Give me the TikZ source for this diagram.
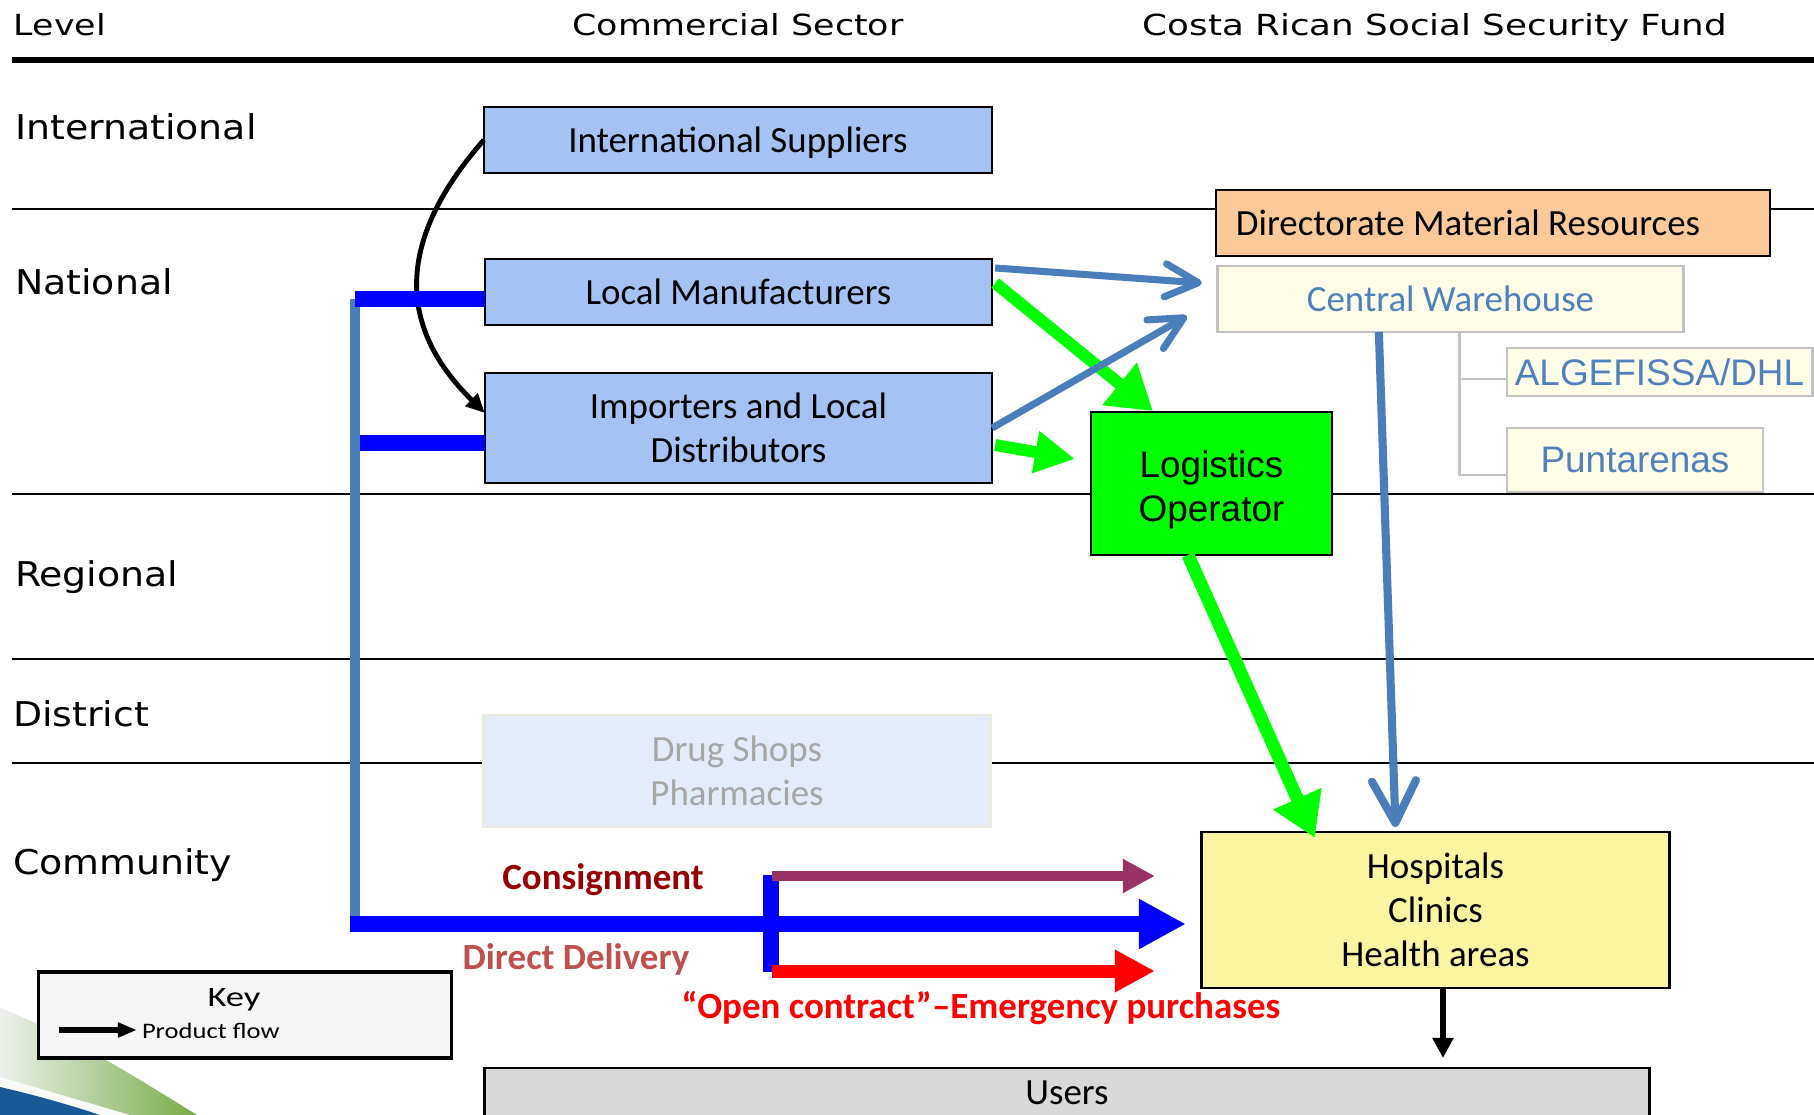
\documentclass[tikz,border=0pt]{standalone}
\usepackage{fontspec}
\usepackage{graphicx}
\setmainfont{Carlito}
\newfontfamily\arialf{Liberation Sans}
\newfontfamily\dejaf{DejaVu Sans}
\usetikzlibrary{arrows.meta,calc}
\definecolor{boxblue}{RGB}{164,194,244}
\definecolor{orangef}{RGB}{252,202,152}
\definecolor{cwfill}{RGB}{255,253,232}
\definecolor{cwborder}{RGB}{195,195,195}
\definecolor{steel}{RGB}{74,126,187}
\definecolor{cwtext}{RGB}{79,129,189}
\definecolor{lgreen}{RGB}{0,255,0}
\definecolor{pblue}{RGB}{0,0,255}
\definecolor{hospy}{RGB}{250,245,160}
\definecolor{usersg}{RGB}{217,217,217}
\definecolor{consig}{RGB}{153,51,102}
\definecolor{constext}{RGB}{150,0,0}
\definecolor{ddtext}{RGB}{192,80,77}
\definecolor{openred}{RGB}{255,0,0}
\definecolor{druggray}{RGB}{166,166,166}
\definecolor{drugfill}{RGB}{228,236,250}
\definecolor{drugborder}{RGB}{236,233,222}
\definecolor{keyfill}{RGB}{246,246,246}
\definecolor{swblue}{RGB}{25,90,150}
\definecolor{swgreen}{RGB}{120,170,70}
\definecolor{swlight}{RGB}{236,241,236}
\newcommand\mybody{\fontsize{10.5}{12.5}\selectfont}
\newcommand\myarial{\arialf\fontsize{10.5}{12.5}\selectfont}
\begin{document}
\begin{tikzpicture}[x=0.01cm,y=-0.01cm,
  every node/.style={inner sep=0pt, outer sep=0pt},
  hdr/.style={anchor=base, font=\dejaf\fontsize{8.25}{10}\selectfont},
  lvl/.style={anchor=base west, font=\dejaf\fontsize{9.7}{11}\selectfont},
  levline/.style={black, line width=0.85pt},
  bluebox/.style={draw=black, line width=0.7pt, fill=boxblue, font=\mybody, align=center},
  cwbox/.style={draw=cwborder, line width=0.8pt, fill=cwfill, text=cwtext, align=center},
  steelarrow/.style={steel, line width=2pt, -{Straight Barb[length=0.33cm,width=0.33cm,round]}},
  greenarrow/.style={lgreen, line width=3.4pt},
  lbl/.style={font=\bfseries\mybody, text depth=0pt},
  cwline/.style={cwborder, line width=0.85pt}
]
\useasboundingbox (0,0) rectangle (1814,1115);
\clip (0,0) rectangle (1814,1115);
\fill[white] (0,0) rectangle (1814,1115);

% decorative swoosh
\shade[left color=swlight, right color=swgreen] (0,1008) .. controls (70,1035) and (140,1080) .. (197,1115) -- (0,1115) -- cycle;
\fill[white!70!swlight] (0,1077) -- (130,1115) -- (0,1115) -- cycle;
\fill[swblue] (0,1087) .. controls (35,1095) and (70,1105) .. (100,1115) -- (0,1115) -- cycle;

% headers
\node[hdr, anchor=base west] (hlevel) at (14,35) {\scalebox{1.2}[1]{Level}};
\node[hdr] (hcomm) at (738,35) {\scalebox{1.2}[1]{Commercial Sector}};
\node[hdr] (hccss) at (1435,35) {\scalebox{1.23}[1]{Costa Rican Social Security Fund}};
\draw[black, line width=1.7pt] (12,60) -- (1814,60);

% level separators
\draw[levline] (12,209) -- (1814,209);
\draw[levline] (12,494) -- (1814,494);
\draw[levline] (12,659) -- (1814,659);
\draw[levline] (12,763) -- (1814,763);

% level labels
\node[lvl] (lint) at (15,139) {\scalebox{1.11}[1]{International}};
\node[lvl] (lnat) at (15,294) {\scalebox{1.11}[1]{National}};
\node[lvl] (lreg) at (15,586) {\scalebox{1.11}[1]{Regional}};
\node[lvl] (ldis) at (13,726) {\scalebox{1.11}[1]{District}};
\node[lvl] (lcom) at (13,874) {\scalebox{1.11}[1]{Community}};

% commercial sector boxes
\node[bluebox, minimum width=5.08cm, minimum height=0.66cm, text depth=0pt] (intsup) at (738,140) {International Suppliers};
\node[bluebox, minimum width=5.07cm, minimum height=0.66cm] (locman) at (738.5,292) {Local Manufacturers};
\node[bluebox, minimum width=5.07cm, minimum height=1.10cm] (importers) at (738.5,428) {Importers and Local\\Distributors};
\node[draw=drugborder, line width=0.8pt, fill=drugfill, text=druggray, font=\mybody, align=center,
      minimum width=5.06cm, minimum height=1.12cm] (drug) at (737,771) {Drug Shops\\Pharmacies};

% CCSS boxes
\node[draw=black, line width=0.7pt, fill=orangef, font=\mybody,
      minimum width=5.54cm, minimum height=0.66cm] (dmr) at (1493,223) {\makebox[5.14cm][l]{Directorate Material Resources}};
\node[cwbox, font=\mybody, minimum width=4.65cm, minimum height=0.66cm] (cw) at (1450.5,299) {Central Warehouse};
\node[cwbox, font=\myarial, minimum width=3.05cm, minimum height=0.48cm] (algef) at (1659.5,372) {ALGEFISSA/DHL};
\node[cwbox, font=\myarial, minimum width=2.56cm, minimum height=0.64cm, text depth=0pt] (punta) at (1635,460) {Puntarenas};
\coordinate (gj) at ($(cw.south west)+(242,0)$);
\draw[cwline] (gj) |- ($(algef.west)+(0,7)$);
\draw[cwline] (gj) |- ($(punta.west)+(0,15)$);

\node[draw=black, line width=0.8pt, fill=lgreen, font=\myarial, align=center,
      minimum width=2.41cm, minimum height=1.43cm] (logop) at (1211.5,483.5) {\rule{0pt}{11.4pt}Logistics\\Operator};
\node[draw=black, line width=0.8pt, fill=hospy, font=\mybody, align=center,
      minimum width=4.67cm, minimum height=1.56cm] (hosp) at (1435.5,910) {Hospitals\\Clinics\\Health areas};
\node[draw=black, line width=0.8pt, fill=usersg, font=\mybody,
      minimum width=11.64cm, minimum height=0.50cm] (users) at (1067,1093) {Users};

% black curved arrow
\draw[black, line width=1.4pt, -{Triangle[length=0.19cm,width=0.17cm]}]
  (intsup.west) .. controls (374,265) and (420,349) .. ($(importers.west)+(0,-15)$);

% green arrows
\draw[greenarrow, -{Triangle[length=0.43cm,width=0.52cm]}] ($(locman.east)+(3,-9)$) -- ($(logop.north west)+(62,-1)$);
\draw[greenarrow, -{Triangle[length=0.4cm,width=0.4cm]}] ($(importers.east)+(3,17)$) -- ($(logop.west)+(-16,-24.5)$);
\draw[greenarrow, line width=3.7pt, -{Triangle[length=0.43cm,width=0.5cm]}] ($(logop.south)+(-23.5,0)$) -- ($(hosp.north west)+(113,6)$);

% steel blue arrows
\draw[steelarrow] ($(locman.north east)+(3,9)$) -- ($(cw.west)+(-16,-16)$);
\draw[steelarrow] (importers.east) -- ($(cw.south west)+(-31,-16)$);
\draw[steel, line width=2.3pt, -{Straight Barb[length=0.42cm,width=0.44cm,round]}] ($(cw.south west)+(161,0)$) -- ($(hosp.north)+(-40,-5)$);

% direct delivery system
\coordinate (vt) at (355,299);
\coordinate (vb) at (355,924);
\coordinate (vm) at (360,443);
\draw[steel, line width=2.85pt] (vt) -- (vb);
\draw[pblue, line width=4.3pt] (vt) -- (vt -| locman.west);
\draw[pblue, line width=4.55pt] (vm) -- (vm -| importers.west);
\draw[pblue, line width=4.55pt, -{Triangle[length=0.47cm,width=0.47cm]}] ($(vb)+(-5,0)$) -- ($(hosp.west)+(-16,14)$);
\coordinate (st) at (771,875);
\coordinate (sb) at (771,972);
\draw[pblue, line width=4.55pt] (st) -- (sb);
\coordinate (cs) at (772,876);
\coordinate (rs) at (772,971);
\draw[consig, line width=2.85pt, -{Triangle[length=0.32cm,width=0.32cm]}] (cs) -- ($(hosp.west)+(-47,-34)$);
\draw[openred, line width=3.7pt, -{Triangle[length=0.4cm,width=0.4cm]}] (rs) -- ($(hosp.west)+(-47,61)$);

\node[lbl, text=constext] (lcons) at (603,877) {Consignment};
\node[lbl, text=ddtext] (ldd) at (576,957) {Direct Delivery};
\node[lbl, text=openred] (lopen) at (981,1005) {“Open contract”–Emergency purchases};

% hospitals to users
\coordinate (ue) at (1443,1058);
\draw[black, line width=1.7pt, -{Triangle[length=0.2cm,width=0.2cm]}] ($(hosp.south)+(7.5,0)$) -- (ue);

% key
\node[draw=black, line width=0.9pt, fill=keyfill, minimum width=4.12cm, minimum height=0.86cm] (key) at (245,1015) {};
\node (keyt) at (234,1000) {\fontsize{8}{9}\selectfont\scalebox{1.3}[1]{Key}};
\coordinate (ka) at (59,1030);
\coordinate (kb) at (137,1030);
\draw[black, line width=1.6pt, -{Triangle[length=0.19cm,width=0.14cm]}] (ka) -- (kb);
\node[anchor=west] (kpf) at (142,1031) {\fontsize{6.3}{7}\selectfont\scalebox{1.2}[1]{Product flow}};
\end{tikzpicture}
\end{document}
